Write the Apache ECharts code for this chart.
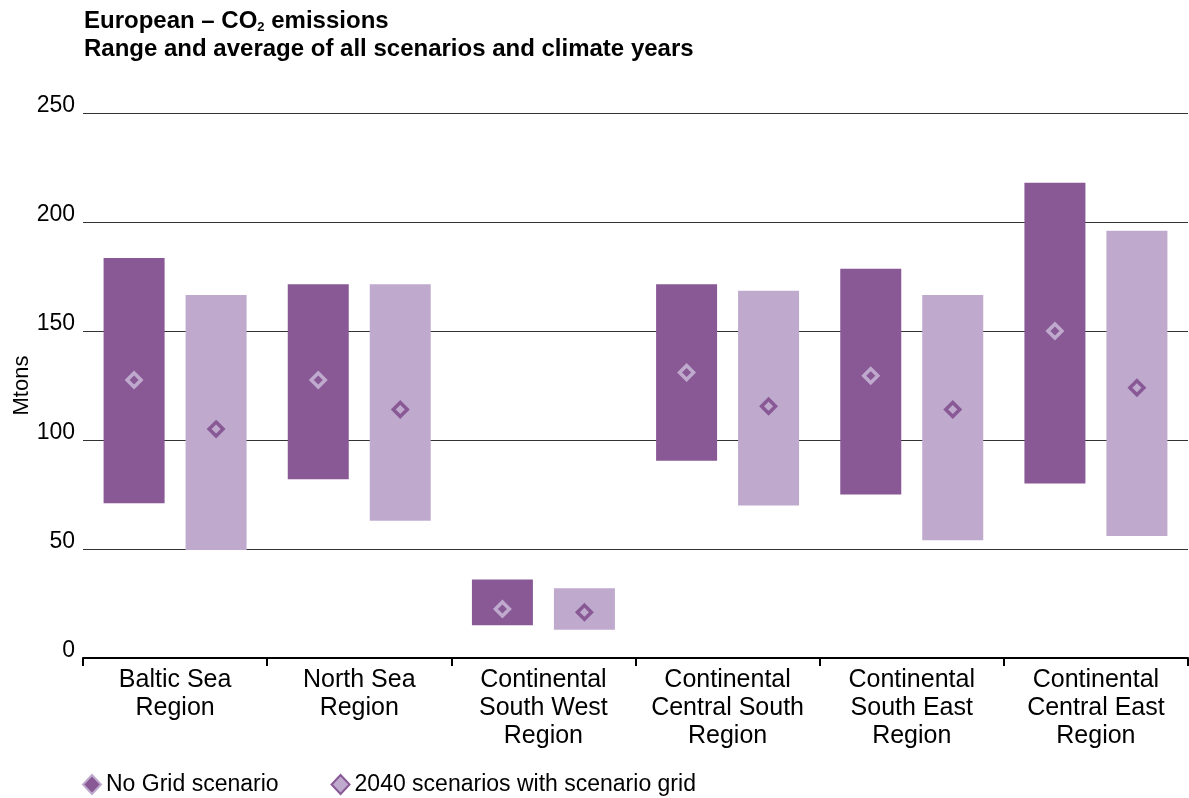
<!DOCTYPE html>
<html>
<head>
<meta charset="utf-8">
<script src="https://cdn.jsdelivr.net/npm/echarts@6/dist/echarts.min.js"></script>
<style>html,body{margin:0;padding:0;background:#fff}#c{width:1189px;height:798px}</style>
</head>
<body>
<div id="c"></div>
<script>
var categories = ['Baltic Sea\nRegion', 'North Sea\nRegion', 'Continental\nSouth West\nRegion', 'Continental\nCentral South\nRegion', 'Continental\nSouth East\nRegion', 'Continental\nCentral East\nRegion'];
var yTicks = [0, 50, 100, 150, 200, 250];
var noGridLow  = [71, 82, 15, 90.5, 75, 80];
var noGridHigh = [183.5, 171.5, 36, 171.5, 178.5, 218];
var noGridAvg  = [127.5, 127.5, 22.5, 131, 129.5, 150];
var gridLow    = [49.5, 63, 13, 70, 54, 56];
var gridHigh   = [166.5, 171.5, 32, 168.5, 166.5, 196];
var gridAvg    = [105, 114, 21, 115.5, 114, 124];
var seriesNames = ['No Grid scenario', '2040 scenarios with scenario grid'];

var DARK = '#895996', LIGHT = '#BFAACE';
var FONT = "'Liberation Sans', Arial, sans-serif";
function diff(h, l) { return h.map(function (v, i) { return +(v - l[i]).toFixed(2); }); }

var chart = echarts.init(document.getElementById('c'));
chart.setOption({
  animation: false,
  textStyle: { fontFamily: FONT, color: '#000' },
  title: {
    left: 84, top: 7, padding: 0,
    text: '{b|European – CO}{s|2}{b| emissions}\n{b|Range and average of all scenarios and climate years}',
    textStyle: {
      rich: {
        b: { fontFamily: FONT, fontWeight: 'bold', fontSize: 24, color: '#000', lineHeight: 28 },
        s: { fontFamily: FONT, fontWeight: 'bold', fontSize: 13, color: '#000', padding: [13, 0, 0, 0], lineHeight: 14 }
      }
    }
  },
  legend: {
    left: 82, top: 773, padding: 0,
    itemWidth: 18, itemHeight: 19, itemGap: 52,
    icon: 'diamond',
    textStyle: { fontFamily: FONT, fontSize: 23, color: '#000' },
    data: [
      { name: seriesNames[0], itemStyle: { color: DARK, borderColor: LIGHT, borderWidth: 2 } },
      { name: seriesNames[1], itemStyle: { color: LIGHT, borderColor: DARK, borderWidth: 2 } }
    ]
  },
  grid: { left: 83, right: 1, top: 113, bottom: 140, containLabel: false, outerBoundsMode: 'none' },
  xAxis: {
    type: 'category',
    data: categories,
    axisLine: { lineStyle: { color: '#000', width: 2 } },
    axisTick: { show: true, length: 8, lineStyle: { color: '#000', width: 2 } },
    axisLabel: { interval: 0, fontFamily: FONT, fontSize: 25, lineHeight: 28, margin: 8, color: '#000' },
    splitLine: { show: false }
  },
  yAxis: {
    type: 'value',
    min: yTicks[0], max: yTicks[yTicks.length - 1], interval: 50,
    name: 'Mtons', nameLocation: 'middle', nameRotate: 90, nameGap: 50, nameMoveOverlap: false,
    nameTextStyle: { fontFamily: FONT, fontSize: 22, color: '#000' },
    axisLine: { show: false }, axisTick: { show: false },
    axisLabel: {
      fontFamily: FONT, fontSize: 23, color: '#000', margin: 8,
      verticalAlign: 'bottom', lineHeight: 15,
      formatter: function (v) { return yTicks.indexOf(v) >= 0 ? String(v) : ''; }
    },
    splitLine: { lineStyle: { color: '#333', width: 1.2 } }
  },
  series: [
    { name: 'ng_base', type: 'bar', stack: 'ng', barWidth: 61, barGap: '34.4%', silent: true,
      itemStyle: { color: 'transparent' }, data: noGridLow },
    { name: 'ng_range', type: 'bar', stack: 'ng', barWidth: 61, barGap: '34.4%',
      itemStyle: { color: DARK }, data: diff(noGridHigh, noGridLow) },
    { name: 'g_base', type: 'bar', stack: 'g', barWidth: 61, barGap: '34.4%', silent: true,
      itemStyle: { color: 'transparent' }, data: gridLow },
    { name: 'g_range', type: 'bar', stack: 'g', barWidth: 61, barGap: '34.4%',
      itemStyle: { color: LIGHT }, data: diff(gridHigh, gridLow) },
    { name: seriesNames[0], type: 'scatter', symbol: 'diamond', symbolSize: 14, symbolOffset: [-41, 0], z: 5,
      itemStyle: { color: DARK, borderColor: LIGHT, borderWidth: 3.5, opacity: 1 }, data: noGridAvg },
    { name: seriesNames[1], type: 'scatter', symbol: 'diamond', symbolSize: 14, symbolOffset: [41, 0], z: 5,
      itemStyle: { color: LIGHT, borderColor: DARK, borderWidth: 3.5, opacity: 1 }, data: gridAvg }
  ]
});
</script>
</body>
</html>
